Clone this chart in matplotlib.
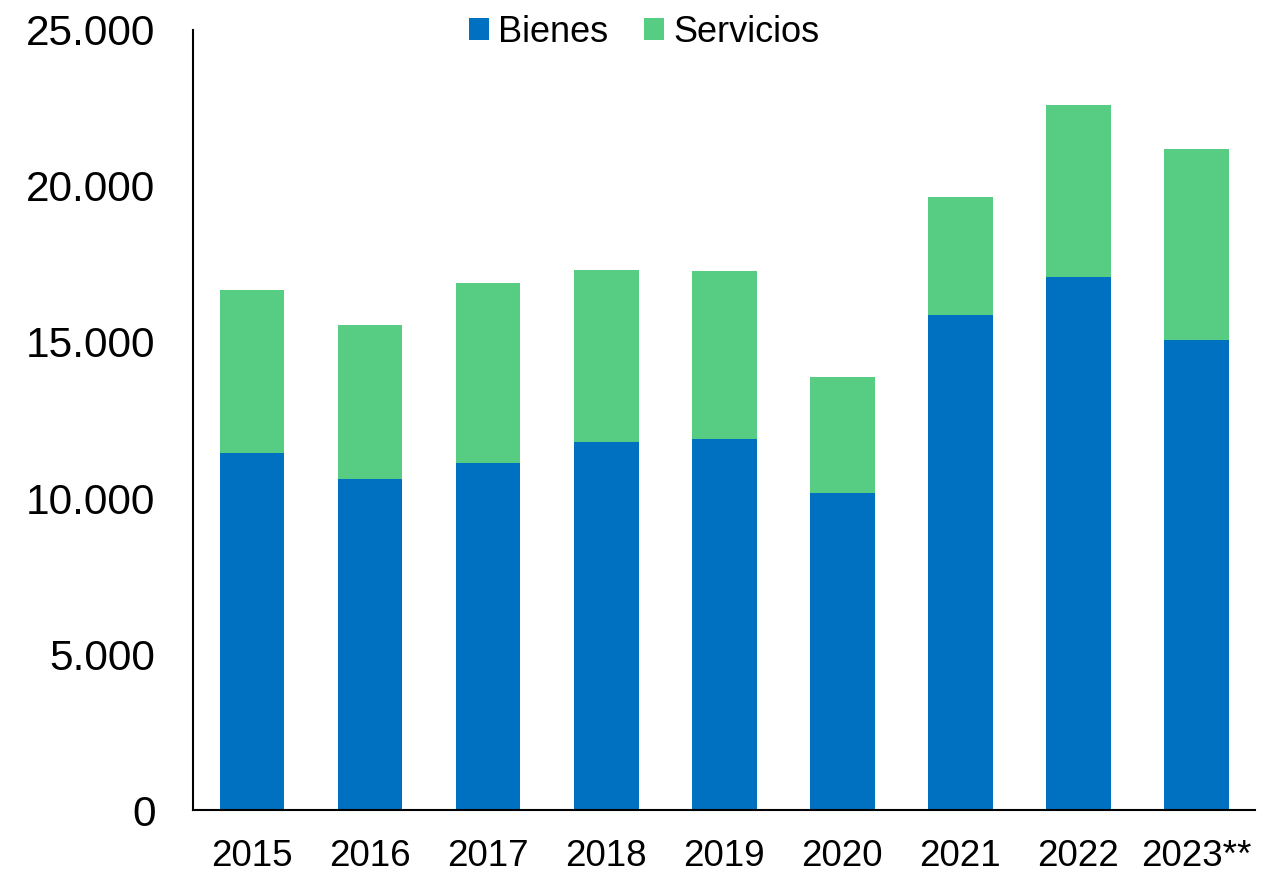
import matplotlib.pyplot as plt
import numpy as np

plt.rcParams['font.family'] = ['Liberation Sans', 'DejaVu Sans']

years = ['2015', '2016', '2017', '2018', '2019', '2020', '2021', '2022', '2023**']
bienes = [11440, 10610, 11120, 11800, 11890, 10160, 15870, 17080, 15060]
servicios = [5230, 4940, 5770, 5510, 5390, 3720, 3780, 5510, 6120]

blue = '#0070C0'
green = '#57CC83'

fig = plt.figure(figsize=(12.63, 8.74), dpi=100)
ax = fig.add_axes([0.1528, 0.0732, 0.841, 0.8925])

x = np.arange(len(years))
ax.bar(x, bienes, width=0.55, color=blue, label='Bienes')
ax.bar(x, servicios, width=0.55, bottom=bienes, color=green, label='Servicios')

ax.set_xlim(-0.5, len(years) - 0.5)
ax.set_ylim(0, 25000)
ax.set_yticks(range(0, 25001, 5000))
ax.set_yticklabels(['0' if v == 0 else f'{v:,}'.replace(',', '.') for v in range(0, 25001, 5000)])
ax.set_xticks(x)
ax.set_xticklabels(years)

ax.tick_params(axis='y', length=0, labelsize=30.5, pad=27)
ax.tick_params(axis='x', length=0, labelsize=26.5, pad=21)

for s in ['top', 'right']:
    ax.spines[s].set_visible(False)
for s in ['left', 'bottom']:
    ax.spines[s].set_linewidth(1.5)

fig.legend(loc='center', bbox_to_anchor=(0.51, 0.963), ncol=2, frameon=False,
           fontsize=26, handlelength=0.55, handleheight=0.55, handletextpad=0.25,
           columnspacing=1.0)

fig.savefig('out.png', dpi=100)
